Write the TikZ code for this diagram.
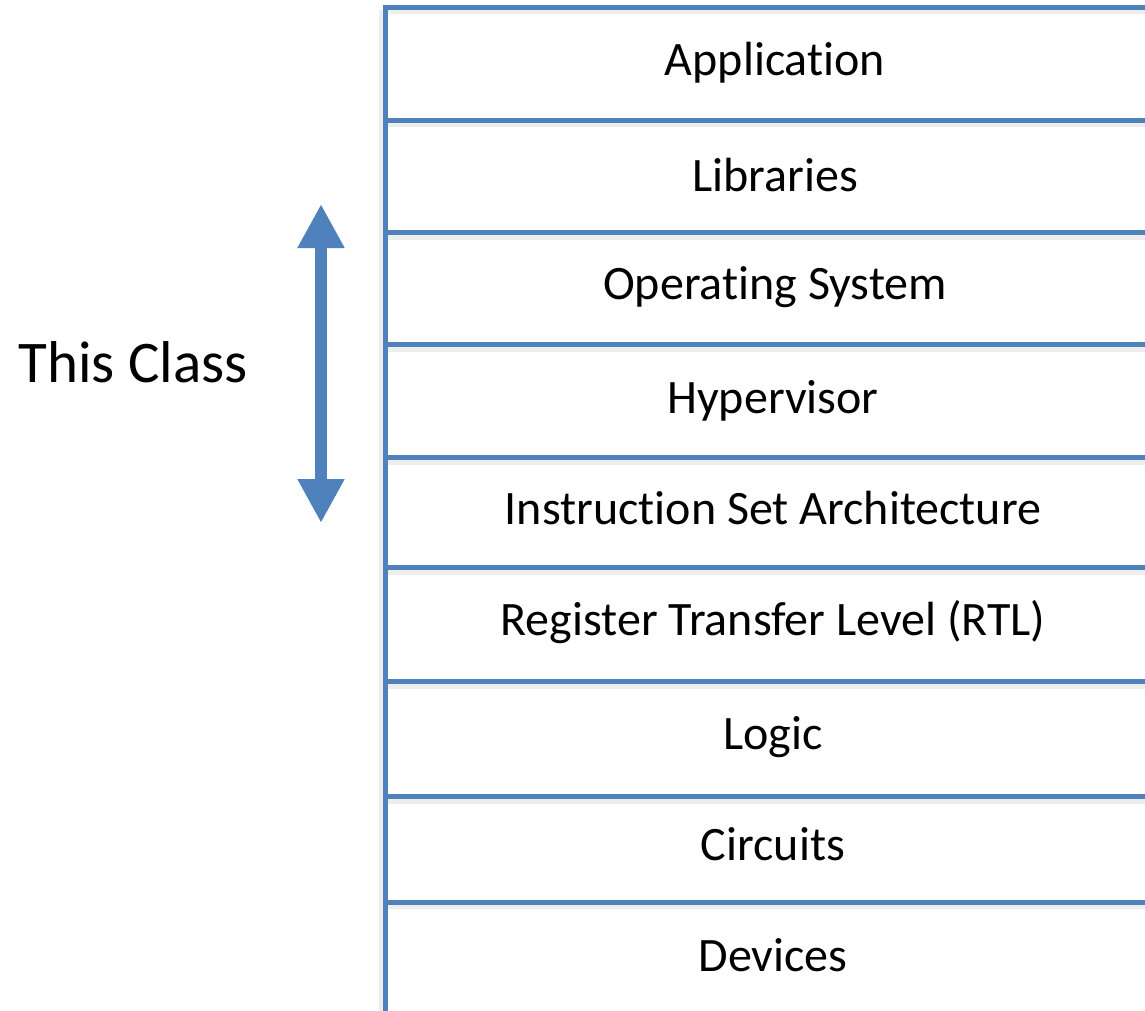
\documentclass[tikz,border=0pt]{standalone}
\usepackage{fontspec}
\setmainfont[Ligatures=NoCommon]{Carlito}
\usetikzlibrary{arrows.meta}
\definecolor{layerblue}{HTML}{4F81BD}
\tikzset{
  x=1pt, y=-1pt,
  rule/.style={draw=layerblue, line width=5pt},
  ruleshadow/.style={draw=black, opacity=0.07, line width=6pt},
  layertext/.style={font=\fontsize{48}{58}\selectfont, anchor=center, inner sep=0pt},
  sidetext/.style={font=\fontsize{59}{70}\selectfont, anchor=center, inner sep=0pt},
  bigarrow/.style={draw=layerblue, line width=12pt,
    {Triangle[width=44pt,length=44pt]}-{Triangle[width=44pt,length=44pt]}}
}
\begin{document}
\begin{tikzpicture}
  \useasboundingbox (0,0) rectangle (1145,1011);
  % layer boundaries, with a faint shadow under each
  \foreach \yy in {7.5,120.5,232.5,344.5,457.5,567.5,681.5,796.5,902}{
    \draw[ruleshadow] (385.5,\yy+4) -- (1145,\yy+4);
  }
  \draw[ruleshadow] (382,10) -- (382,1011);
  \draw[rule] (385.5,5) -- (385.5,1011);
  \foreach \yy in {7.5,120.5,232.5,344.5,457.5,567.5,681.5,796.5,902}{
    \draw[rule] (383,\yy) -- (1145,\yy);
  }
  % layer labels
  \node[layertext] (app) at (775,63) {Application};
  \node[layertext] (lib) at (775,175) {Libraries};
  \node[layertext] (os)  at (775,287) {Operating System};
  \node[layertext] (hyp) at (773,401) {Hypervisor};
  \node[layertext] (isa) at (773,508) {Instruction Set Architecture};
  \node[layertext] (rtl) at (773,622) {Register Transfer Level (RTL)};
  \node[layertext] (logic) at (773,737) {Logic};
  \node[layertext] (circ) at (773,844) {Circuits};
  \node[layertext] (dev) at (773,955) {Devices};
  % scope of the course
  \node[sidetext] (cls) at (133,362) {This Class};
  \coordinate (atop) at (321,204);
  \coordinate (abot) at (321,523);
  \draw[bigarrow] (atop) -- (abot);
\end{tikzpicture}
\end{document}
